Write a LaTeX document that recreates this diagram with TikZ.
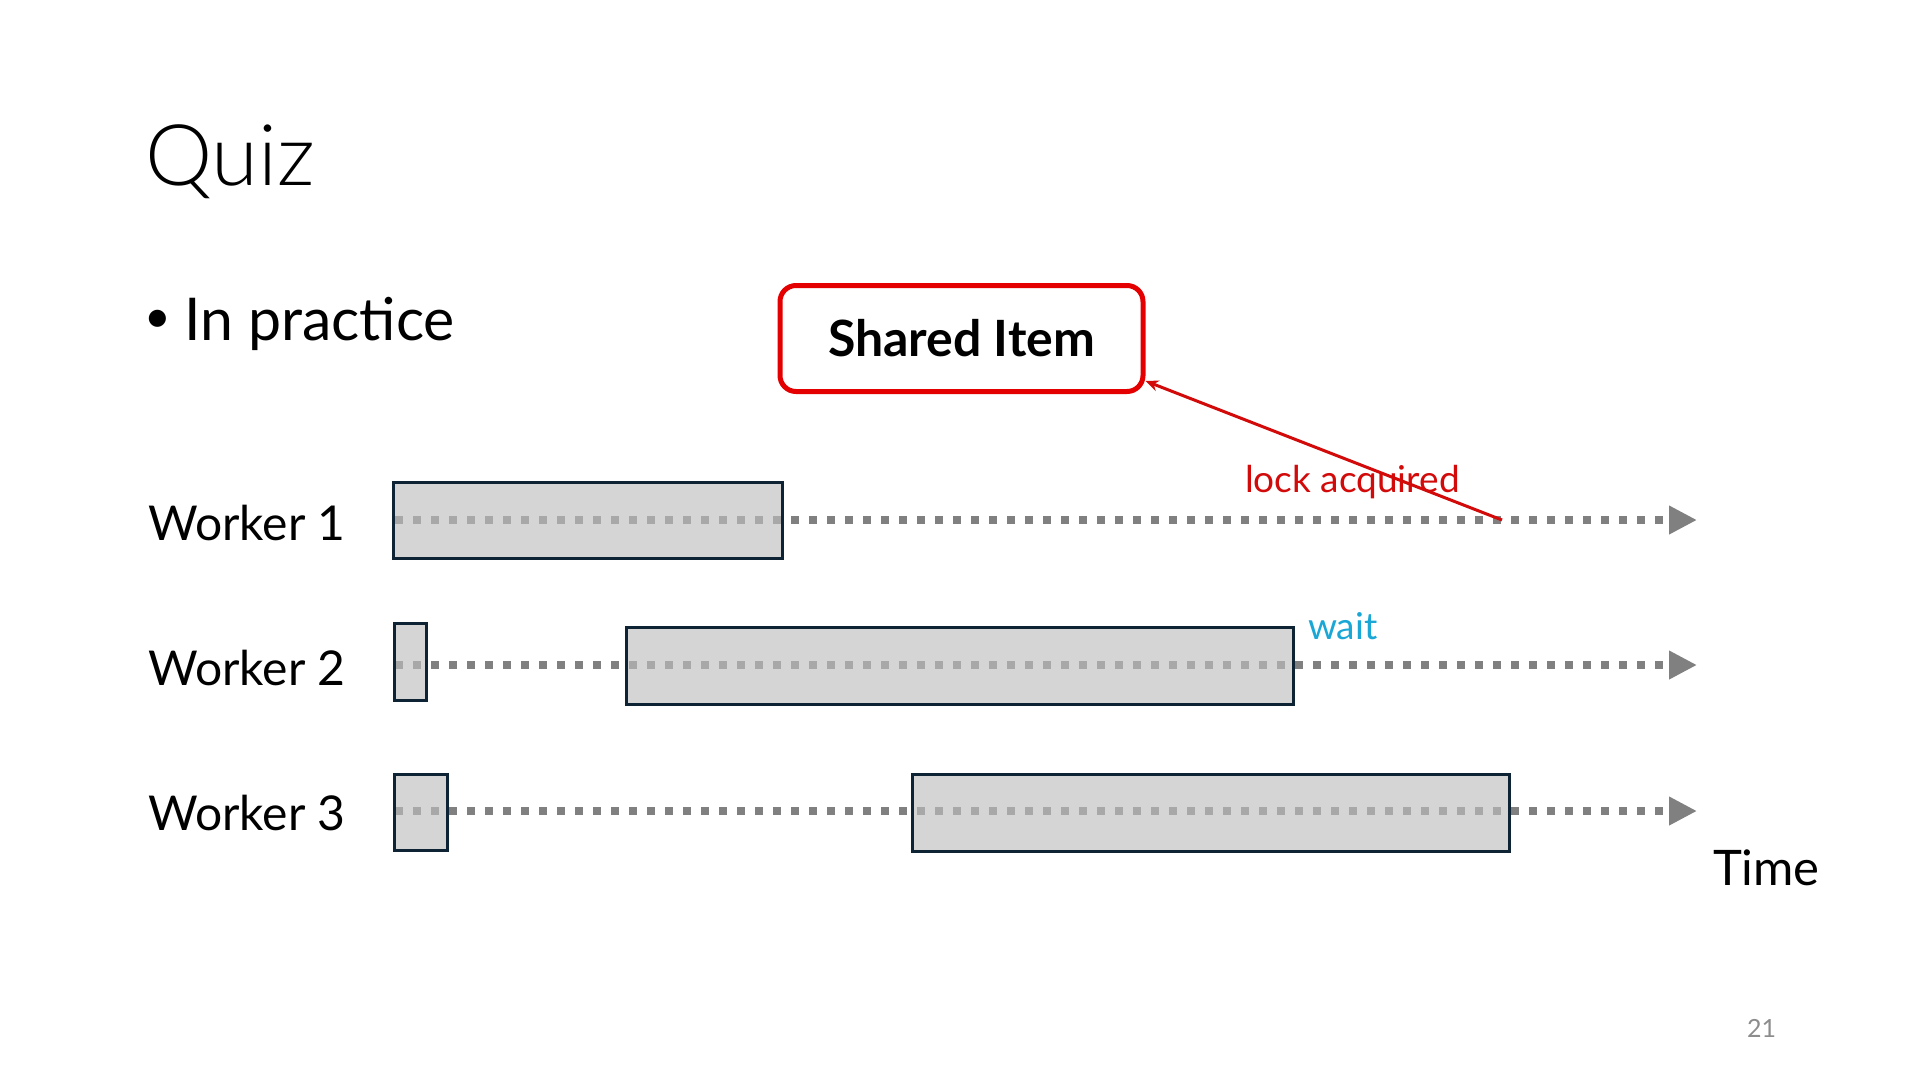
\documentclass[tikz,border=0pt]{standalone}
\usepackage{fontspec}
\setmainfont{Lato}
\newfontfamily\lightfont{Lato Light}
\usetikzlibrary{arrows.meta}
\definecolor{dotgray}{RGB}{128,128,128}
\definecolor{boxgray}{RGB}{190,190,190}
\definecolor{boxline}{RGB}{14,36,52}
\definecolor{itemred}{RGB}{228,0,0}
\definecolor{lockred}{RGB}{210,10,10}
\definecolor{waitblue}{RGB}{26,167,214}
\definecolor{pagegray}{RGB}{140,140,140}
\tikzset{
  timeline/.style={draw=dotgray, line width=8pt, dash pattern=on 8pt off 10pt,
    -{Triangle[length=28pt,width=27pt]}},
  taskbox/.style={rectangle, draw=boxline, line width=3pt, fill=boxgray, fill opacity=0.65,
    draw opacity=1, inner sep=0pt, outer sep=0pt},
  itembox/.style={rectangle, draw=itemred, line width=5pt, rounded corners=16pt, fill=white,
    minimum width=363pt, minimum height=106pt, inner sep=0pt,
    font=\fontsize{50}{60}\selectfont\bfseries},
  lbl/.style={anchor=base west, inner sep=0pt, outer sep=0pt},
  worker/.style={lbl, font=\fontsize{48}{58}\selectfont},
  lockarrow/.style={draw=lockred, line width=3pt, -{Stealth[length=13pt,width=11pt]}},
}
\begin{document}
\begin{tikzpicture}[x=1pt,y=-1pt]
\useasboundingbox (0,0) rectangle (1920,1080);
% title
\node[lbl, font=\fontsize{85}{100}\lightfont] (title) at (145,185) {Quiz};
\node[anchor=center, inner sep=0pt, font=\fontsize{46}{56}\selectfont] (bullet) at (158,321) {•};
\node[lbl, font=\fontsize{59}{70}\selectfont] (practice) at (184,340) {In practice};
% worker labels
\node[worker] (w1) at (148,540) {Worker 1};
\node[worker] (w2) at (148,685) {Worker 2};
\node[worker] (w3) at (148,830) {Worker 3};
% timelines
\coordinate (a1) at (395,520); \coordinate (e1) at (1697,520);
\coordinate (a2) at (395,665); \coordinate (e2) at (1697,665);
\coordinate (a3) at (395,811); \coordinate (e3) at (1697,811);
\draw[timeline] (a1) -- (e1);
\draw[timeline] (a2) -- (e2);
\draw[timeline] (a3) -- (e3);
% task boxes
\node[taskbox, minimum width=389pt, minimum height=76pt] (t1) at (587.5,520) {};
\node[taskbox, minimum width=32pt, minimum height=77pt] (s2) at (410,661.5) {};
\node[taskbox, minimum width=667pt, minimum height=77pt] (t2) at (959.5,665.5) {};
\node[taskbox, minimum width=53pt, minimum height=76pt] (s3) at (420.5,812) {};
\node[taskbox, minimum width=597pt, minimum height=77pt] (t3) at (1210.5,812.5) {};
% shared item
\node[itembox] (si) at (961.5,338.5) {Shared Item};
\coordinate (lk) at (1502,520);
\draw[lockarrow] (lk) -- ([xshift=0pt,yshift=13pt]si.south east);
% labels
\node[lbl, text=lockred, font=\fontsize{37}{44}\selectfont] (lock) at (1245,492) {lock acquired};
\node[lbl, text=waitblue, font=\fontsize{37}{44}\selectfont] (wait) at (1308,639) {wait};
\node[lbl, font=\fontsize{49}{58}\selectfont] (time) at (1713,885) {Time};
\node[lbl, text=pagegray, font=\fontsize{25}{30}\selectfont] (page) at (1747,1037) {21};
\end{tikzpicture}
\end{document}
